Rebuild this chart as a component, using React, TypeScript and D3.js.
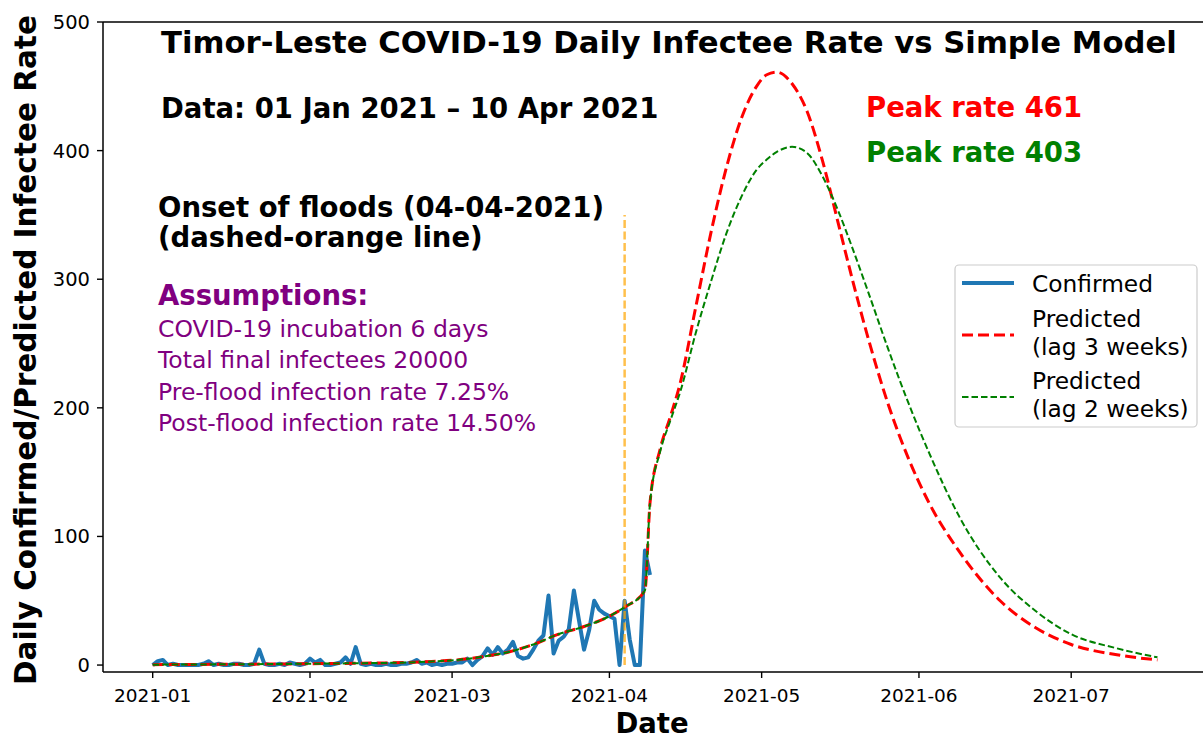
import React from "react";
import * as d3 from "d3";

// ---------- DATA ----------
const confirmedStart = "2021-01-01";
// daily confirmed cases, 01 Jan 2021 onward (one per day)
const confirmedValues = [
  0, 3, 4, 0, 1, 0, 0, 0, 0, 0,
  1, 3, 0, 1, 0, 0, 1, 1, 0, 0,
  1, 12, 1, 0, 0, 1, 0, 2, 1, 0,
  1, 5, 2, 4, 0, 0, 1, 2, 6, 1,
  14, 1, 0, 1, 0, 0, 1, 0, 0, 1,
  1, 2, 4, 1, 2, 0, 1, 0, 1, 1,
  2, 2, 5, 0, 4, 7, 13, 8, 14, 9,
  12, 18, 7, 5, 6, 12, 19, 23, 54, 9,
  19, 22, 28, 58, 35, 12, 27, 50, 43, 40,
  38, 36, 0, 50, 20, 0, 0, 89, 70,
];

const modelDates = [
  "2021-01-01", "2021-01-11", "2021-01-21", "2021-01-31", "2021-02-10",
  "2021-02-20", "2021-02-25", "2021-03-02", "2021-03-07", "2021-03-12",
  "2021-03-17", "2021-03-22", "2021-03-27", "2021-04-01", "2021-04-04",
  "2021-04-08", "2021-04-09", "2021-04-11", "2021-04-13", "2021-04-15",
  "2021-04-18", "2021-04-21", "2021-04-24", "2021-04-27", "2021-04-30",
  "2021-05-02", "2021-05-04", "2021-05-07", "2021-05-10", "2021-05-13",
  "2021-05-16", "2021-05-19", "2021-05-22", "2021-05-26", "2021-05-30",
  "2021-06-03", "2021-06-09", "2021-06-17", "2021-06-24", "2021-07-01",
  "2021-07-10", "2021-07-18",
];
const predictedLag3 = [
  0.3, 0.5, 0.7, 1.0, 1.4, 2.0, 2.8, 4, 6.5, 10,
  16, 24, 30, 38, 45, 58, 126, 168, 193, 220,
  278, 336, 386, 425, 450, 459, 461, 452, 430, 392,
  345, 298, 254, 202, 160, 126, 88, 50, 29, 16,
  8, 4,
];
const predictedLag2 = [
  0.3, 0.5, 0.7, 1.0, 1.4, 2.0, 2.8, 4, 6.5, 10,
  16, 24, 30, 38, 45, 58, 126, 166, 190, 213,
  258, 298, 335, 364, 385, 393, 399, 403, 398, 380,
  354, 323, 290, 245, 203, 165, 115, 68, 42, 24,
  13, 6,
];

const floodDate = "2021-04-04";
const floodLineTop = 350;

const xTickLabels = ["2021-01", "2021-02", "2021-03", "2021-04", "2021-05", "2021-06", "2021-07"];
const yTicks = [0, 100, 200, 300, 400, 500];

const titleText = "Timor-Leste COVID-19 Daily Infectee Rate vs Simple Model";
const dataText = "Data: 01 Jan 2021 \u2013 10 Apr 2021";
const peakTexts = ["Peak rate 461", "Peak rate 403"];
const onsetTexts = ["Onset of floods (04-04-2021)", "(dashed-orange line)"];
const assumptionsTitle = "Assumptions:";
const assumptionLines = [
  "COVID-19 incubation 6 days",
  "Total final infectees 20000",
  "Pre-flood infection rate 7.25%",
  "Post-flood infection rate 14.50%",
];
const legendLabels = [["Confirmed"], ["Predicted", "(lag 3 weeks)"], ["Predicted", "(lag 2 weeks)"]];

// ---------- LAYOUT ----------
const W = 1203;
const H = 740;
const plotLeft = 103;
const plotRight = 1208;
const plotTop = 22;
const plotBottom = 672;
const FONT = "'DejaVu Sans', sans-serif";

const parse = d3.utcParse("%Y-%m-%d");
const day0 = parse(confirmedStart) as Date;
const pxPerDay = 5.075;
const xStartDays = -(152.7 - plotLeft) / pxPerDay;
const xEndDays = (plotRight - 152.7) / pxPerDay;

const x = d3
  .scaleUtc()
  .domain([d3.utcHour.offset(day0, Math.round(xStartDays * 24)), d3.utcHour.offset(day0, Math.round(xEndDays * 24))])
  .range([plotLeft, plotRight]);
const y = d3.scaleLinear().domain([-5.4, 500]).range([plotBottom, plotTop]);

type Pt = { d: Date; v: number };
const confirmed: Pt[] = confirmedValues.map((v, i) => ({ d: d3.utcDay.offset(day0, i), v }));
const lag3: Pt[] = modelDates.map((s, i) => ({ d: parse(s) as Date, v: predictedLag3[i] }));
const lag2: Pt[] = modelDates.map((s, i) => ({ d: parse(s) as Date, v: predictedLag2[i] }));

const rawLine = d3.line<Pt>().x((p) => x(p.d)).y((p) => y(p.v));
const smoothLine = d3
  .line<Pt>()
  .x((p) => x(p.d))
  .y((p) => y(p.v))
  .curve(d3.curveMonotoneX);

const BLUE = "#1f77b4";
const RED = "#ff0000";
const GREEN = "#008000";
const PURPLE = "#800080";

export default function App() {
  const xTicks = xTickLabels.map((s) => parse(s + "-01") as Date);
  const fd = parse(floodDate) as Date;
  const legX0 = 955;
  const legY0 = 265;
  return (
    <div style={{ position: "fixed", left: 0, top: 0, width: W, height: H, overflow: "hidden", background: "#fff" }}>
      <svg width={W} height={H} style={{ display: "block", fontFamily: FONT }}>
        <rect x={0} y={0} width={W} height={H} fill="#fff" />
        {/* data lines */}
        <path d={rawLine(confirmed) || ""} fill="none" stroke={BLUE} strokeWidth={4} strokeLinejoin="round" />
        <path d={smoothLine(lag3) || ""} fill="none" stroke={RED} strokeWidth={3} strokeDasharray="11,5" />
        <path d={smoothLine(lag2) || ""} fill="none" stroke={GREEN} strokeWidth={2} strokeDasharray="6.5,3" />
        <line
          x1={x(fd)}
          x2={x(fd)}
          y1={y(0)}
          y2={y(floodLineTop)}
          stroke="orange"
          strokeOpacity={0.7}
          strokeWidth={2.5}
          strokeDasharray="8,3.5"
        />
        {/* spines */}
        <line x1={plotLeft} x2={plotLeft} y1={plotTop} y2={plotBottom} stroke="#000" strokeWidth={1.5} />
        <line x1={plotLeft} x2={plotRight} y1={plotBottom} y2={plotBottom} stroke="#000" strokeWidth={1.5} />
        <line x1={plotLeft} x2={plotRight} y1={plotTop} y2={plotTop} stroke="#000" strokeWidth={1.5} />
        {/* y ticks */}
        {yTicks.map((t) => (
          <g key={"y" + t}>
            <line x1={plotLeft - 6} x2={plotLeft} y1={y(t)} y2={y(t)} stroke="#000" strokeWidth={1.4} />
            <text x={plotLeft - 13} y={y(t) + 7} textAnchor="end" fontSize={19.5} fill="#000">
              {t}
            </text>
          </g>
        ))}
        {/* x ticks */}
        {xTicks.map((t, i) => (
          <g key={"x" + i}>
            <line x1={x(t)} x2={x(t)} y1={plotBottom} y2={plotBottom + 6} stroke="#000" strokeWidth={1.4} />
            <text x={x(t)} y={702} textAnchor="middle" fontSize={18.5} fill="#000">
              {xTickLabels[i]}
            </text>
          </g>
        ))}
        {/* axis labels */}
        <text x={652} y={733} textAnchor="middle" fontSize={27.5} fontWeight="bold" fill="#000">
          Date
        </text>
        <text
          transform={`translate(36, 350) rotate(-90)`}
          textAnchor="middle"
          fontSize={29.5}
          fontWeight="bold"
          fill="#000"
        >
          Daily Confirmed/Predicted Infectee Rate
        </text>
        {/* annotations */}
        <text x={161} y={53} fontSize={30.7} fontWeight="bold" fill="#000">
          {titleText}
        </text>
        <text x={161} y={118} fontSize={27.5} fontWeight="bold" fill="#000">
          {dataText}
        </text>
        <text x={866} y={117} fontSize={27.5} fontWeight="bold" fill={RED}>
          {peakTexts[0]}
        </text>
        <text x={866} y={162} fontSize={27.5} fontWeight="bold" fill={GREEN}>
          {peakTexts[1]}
        </text>
        {onsetTexts.map((s, i) => (
          <text key={s} x={158} y={217 + i * 30} fontSize={27.5} fontWeight="bold" fill="#000">
            {s}
          </text>
        ))}
        <text x={158} y={305} fontSize={27.5} fontWeight="bold" fill={PURPLE}>
          {assumptionsTitle}
        </text>
        {assumptionLines.map((s, i) => (
          <text key={s} x={158} y={337 + i * 31.3} fontSize={23.5} fill={PURPLE}>
            {s}
          </text>
        ))}
        {/* legend */}
        <rect
          x={legX0}
          y={legY0}
          width={242}
          height={162}
          rx={4}
          fill="#fff"
          fillOpacity={0.8}
          stroke="#cccccc"
          strokeWidth={1.2}
        />
        <line x1={962} x2={1014} y1={283} y2={283} stroke={BLUE} strokeWidth={4} />
        <line x1={962} x2={1014} y1={335} y2={335} stroke={RED} strokeWidth={3} strokeDasharray="11,5" />
        <line x1={962} x2={1014} y1={397} y2={397} stroke={GREEN} strokeWidth={2} strokeDasharray="6.5,3" />
        <text x={1032} y={292} fontSize={23.3} fill="#000">
          {legendLabels[0][0]}
        </text>
        <text x={1032} y={327} fontSize={23.3} fill="#000">
          {legendLabels[1][0]}
        </text>
        <text x={1032} y={355} fontSize={23.3} fill="#000">
          {legendLabels[1][1]}
        </text>
        <text x={1032} y={389} fontSize={23.3} fill="#000">
          {legendLabels[2][0]}
        </text>
        <text x={1032} y={417} fontSize={23.3} fill="#000">
          {legendLabels[2][1]}
        </text>
      </svg>
    </div>
  );
}
